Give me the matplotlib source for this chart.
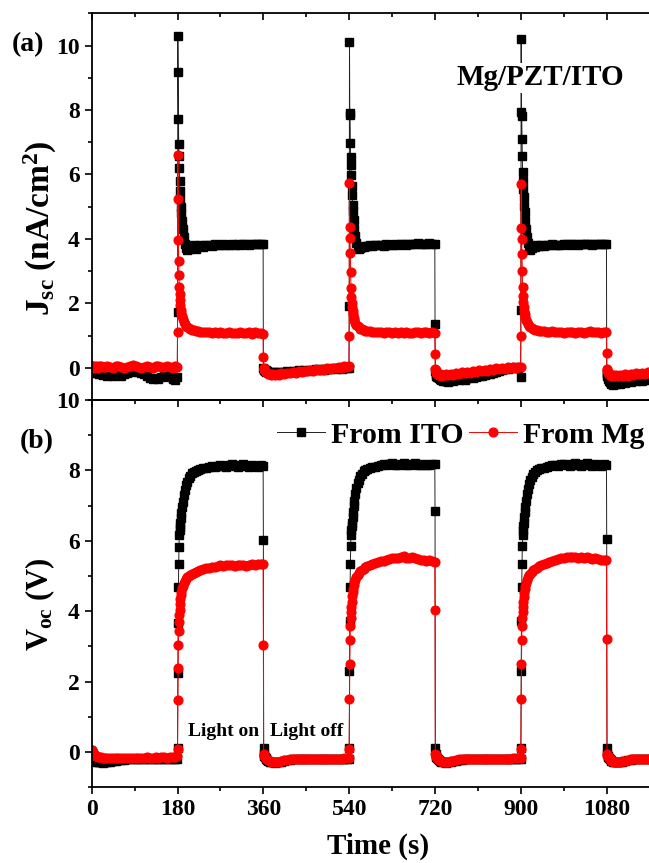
import numpy as np
import matplotlib.pyplot as plt
from matplotlib.ticker import MultipleLocator

plt.rcParams['font.family'] = ['Liberation Serif', 'DejaVu Serif']
plt.rcParams['font.weight'] = 'bold'
plt.rcParams['axes.labelweight'] = 'bold'
plt.rcParams['mathtext.fontset'] = 'custom'
plt.rcParams['mathtext.rm'] = 'Liberation Serif:bold'
plt.rcParams['mathtext.it'] = 'Liberation Serif:bold'
plt.rcParams['mathtext.bf'] = 'Liberation Serif:bold'

# switching times (s): light on at t_light, off at t_dark
t_dark = [0, 360, 720, 1080]
t_light = [180, 540, 900]

# sampling offsets inside a dark / light segment (s)
off_dt = [0, 0.6, 1.2, 2, 3, 4.5, 6, 8, 10, 13, 16, 20, 24, 28, 33, 38, 44, 50, 56, 62,
          68, 74, 80, 86, 92, 98, 104, 110, 116, 122, 128, 134, 140, 146, 152, 158, 164, 170, 175, 179.5]
on_dt = [0, 0.6, 1.2, 1.8, 2.4, 3, 3.6, 4.2, 5, 6, 7, 8, 9.5, 11, 13, 15, 17.5, 20, 23, 26,
         30, 34, 38, 43, 48, 54, 60, 66, 72, 78, 84, 90, 96, 102, 108, 114, 120, 126, 132, 138,
         144, 150, 156, 162, 168, 174, 179.5]

# ---- (a) Jsc, nA/cm2 ----
jsc_ito_dark = [
    [-0.10, -0.12, -0.10, -0.15, -0.12, -0.14, -0.10, -0.13, -0.15, -0.12, -0.18, -0.20, -0.22, -0.20,
     -0.24, -0.22, -0.25, -0.20, -0.22, -0.24, -0.18, -0.15, -0.12, -0.10, -0.08, -0.12, -0.15, -0.18,
     -0.25, -0.32, -0.36, -0.33, -0.36, -0.30, -0.25, -0.22, -0.28, -0.35, -0.38, -0.30],
    [0.00, -0.05, -0.08, -0.06, -0.10, -0.08, -0.12, -0.10, -0.14, -0.12, -0.15, -0.13, -0.16, -0.14,
     -0.12, -0.15, -0.13, -0.10, -0.12, -0.09, -0.11, -0.08, -0.10, -0.07, -0.09, -0.06, -0.08, -0.05,
     -0.07, -0.04, -0.06, -0.03, -0.05, -0.02, -0.04, -0.01, -0.03, 0.00, -0.02, 0.00],
    [1.36, -0.10, -0.15, -0.20, -0.25, -0.28, -0.30, -0.32, -0.35, -0.38, -0.40, -0.42, -0.40, -0.43,
     -0.38, -0.41, -0.36, -0.39, -0.35, -0.37, -0.33, -0.30, -0.32, -0.28, -0.25, -0.27, -0.22, -0.20,
     -0.18, -0.15, -0.12, -0.10, -0.08, -0.05, -0.03, 0.00, -0.02, 0.02, 0.00, -0.30],
    [-0.15, -0.20, -0.25, -0.30, -0.35, -0.40, -0.45, -0.48, -0.50, -0.52, -0.48, -0.50, -0.45, -0.50,
     -0.42, -0.46, -0.40, -0.44, -0.38, -0.42, -0.36, -0.40, -0.35, -0.38, -0.34],
]
jsc_ito_light = [
    [1.73, 10.28, 9.19, 7.72, 6.95, 6.57, 6.19, 5.80, 5.50, 5.25, 5.00, 4.80, 4.55, 4.30, 4.05, 3.85,
     3.72, 3.66, 3.70, 3.78, 3.74, 3.80, 3.70, 3.78, 3.80, 3.76, 3.82, 3.80, 3.79, 3.83, 3.80, 3.81,
     3.84, 3.80, 3.82, 3.83, 3.81, 3.84, 3.82, 3.83, 3.85, 3.82, 3.84, 3.83, 3.85, 3.84, 3.83],
    [1.92, 10.12, 7.90, 7.85, 6.97, 6.55, 6.30, 5.98, 5.65, 5.35, 5.05, 4.85, 4.58, 4.32, 4.08, 3.88,
     3.74, 3.68, 3.72, 3.76, 3.74, 3.79, 3.77, 3.80, 3.78, 3.81, 3.80, 3.82, 3.79, 3.83, 3.81, 3.82,
     3.84, 3.81, 3.83, 3.84, 3.82, 3.85, 3.83, 3.84, 3.86, 3.83, 3.85, 3.84, 3.86, 3.85, 3.84],
    [1.78, 10.20, 7.95, 7.80, 7.09, 6.57, 6.09, 5.80, 5.55, 5.30, 5.02, 4.82, 4.56, 4.30, 4.06, 3.86,
     3.73, 3.67, 3.71, 3.77, 3.75, 3.80, 3.78, 3.81, 3.79, 3.82, 3.81, 3.83, 3.80, 3.82, 3.81, 3.83,
     3.84, 3.82, 3.83, 3.85, 3.82, 3.84, 3.83, 3.85, 3.84, 3.82, 3.85, 3.84, 3.83, 3.85, 3.84],
]
jsc_mg_dark = [
    [0.05, 0.03, 0.06, 0.02, 0.04, 0.00, 0.03, 0.05, 0.02, 0.00, 0.04, 0.06, 0.03, 0.01, 0.05, 0.02,
     0.00, 0.04, 0.06, 0.02, 0.00, 0.03, 0.05, 0.08, 0.04, 0.02, 0.00, 0.03, 0.05, 0.02, 0.00, 0.04,
     0.06, 0.03, 0.01, 0.05, 0.03, 0.00, 0.04, 0.02],
    [0.33, -0.02, -0.05, -0.08, -0.10, -0.12, -0.14, -0.16, -0.18, -0.20, -0.22, -0.20, -0.23, -0.19,
     -0.21, -0.17, -0.19, -0.15, -0.17, -0.13, -0.15, -0.11, -0.13, -0.09, -0.11, -0.07, -0.09, -0.05,
     -0.07, -0.04, -0.06, -0.02, -0.04, 0.00, -0.02, 0.03, 0.00, 0.05, 0.02, 0.04],
    [0.43, -0.05, -0.08, -0.12, -0.15, -0.18, -0.20, -0.22, -0.20, -0.24, -0.21, -0.23, -0.19, -0.22,
     -0.18, -0.21, -0.16, -0.19, -0.14, -0.17, -0.12, -0.15, -0.10, -0.13, -0.08, -0.11, -0.06, -0.09,
     -0.04, -0.07, -0.02, -0.05, 0.00, -0.03, 0.02, -0.01, 0.03, 0.00, 0.02, 0.01],
    [0.46, -0.05, -0.08, -0.12, -0.15, -0.18, -0.20, -0.23, -0.25, -0.22, -0.26, -0.23, -0.27, -0.22,
     -0.25, -0.20, -0.24, -0.19, -0.22, -0.17, -0.20, -0.15, -0.18, -0.14, -0.16],
]
jsc_mg_light = [
    [1.12, 6.60, 5.24, 3.96, 3.32, 2.88, 2.52, 2.30, 2.10, 1.95, 1.80, 1.70, 1.60, 1.50, 1.42, 1.36,
     1.30, 1.26, 1.22, 1.20, 1.18, 1.16, 1.15, 1.13, 1.12, 1.12, 1.10, 1.11, 1.09, 1.10, 1.08, 1.10,
     1.09, 1.08, 1.10, 1.07, 1.09, 1.08, 1.12, 1.07, 1.08, 1.10, 1.06, 1.12, 1.07, 1.08, 1.05],
    [1.00, 5.73, 4.38, 4.02, 3.55, 2.98, 2.47, 2.20, 2.02, 1.88, 1.75, 1.66, 1.56, 1.47, 1.40, 1.34,
     1.29, 1.25, 1.21, 1.19, 1.17, 1.15, 1.14, 1.13, 1.12, 1.11, 1.10, 1.12, 1.09, 1.11, 1.10, 1.08,
     1.11, 1.09, 1.10, 1.08, 1.11, 1.09, 1.08, 1.10, 1.12, 1.09, 1.10, 1.11, 1.08, 1.10, 1.09],
    [1.00, 5.70, 4.35, 4.00, 3.52, 3.00, 2.50, 2.22, 2.04, 1.90, 1.76, 1.67, 1.57, 1.48, 1.41, 1.35,
     1.30, 1.26, 1.22, 1.20, 1.18, 1.16, 1.15, 1.14, 1.13, 1.12, 1.11, 1.13, 1.10, 1.12, 1.11, 1.09,
     1.12, 1.10, 1.11, 1.09, 1.12, 1.10, 1.09, 1.11, 1.13, 1.10, 1.11, 1.12, 1.09, 1.11, 1.10],
]

# ---- (b) Voc, V ----
voc_ito_dark = [
    [-0.05, -0.10, -0.15, -0.18, -0.20, -0.22, -0.24, -0.25, -0.27, -0.28, -0.28, -0.29, -0.30, -0.29,
     -0.28, -0.27, -0.25, -0.24, -0.23, -0.22, -0.22, -0.21, -0.21, -0.20, -0.21, -0.20, -0.20, -0.21,
     -0.20, -0.20, -0.21, -0.20, -0.20, -0.21, -0.20, -0.20, -0.21, -0.20, -0.20, -0.20],
    [6.03, 0.11, -0.05, -0.10, -0.15, -0.18, -0.20, -0.23, -0.25, -0.27, -0.28, -0.29, -0.30, -0.29,
     -0.28, -0.27, -0.25, -0.23, -0.22, -0.21, -0.21, -0.20, -0.20, -0.21, -0.20, -0.20, -0.21, -0.20,
     -0.20, -0.21, -0.20, -0.20, -0.21, -0.20, -0.20, -0.21, -0.20, -0.20, -0.21, -0.20],
    [6.84, 0.11, -0.04, -0.10, -0.14, -0.18, -0.21, -0.23, -0.26, -0.27, -0.29, -0.29, -0.30, -0.28,
     -0.27, -0.26, -0.24, -0.23, -0.22, -0.21, -0.20, -0.21, -0.20, -0.20, -0.21, -0.20, -0.20, -0.21,
     -0.20, -0.20, -0.21, -0.20, -0.20, -0.21, -0.20, -0.20, -0.21, -0.20, -0.20, -0.20],
    [6.05, 0.11, -0.05, -0.10, -0.15, -0.18, -0.21, -0.23, -0.25, -0.27, -0.28, -0.29, -0.29, -0.28,
     -0.27, -0.25, -0.23, -0.22, -0.21, -0.20, -0.21, -0.20, -0.20, -0.21, -0.20],
]
voc_ito_light = [
    [0.12, 2.24, 3.68, 4.70, 5.35, 5.82, 6.16, 6.30, 6.40, 6.50, 6.65, 6.80, 6.95, 7.10, 7.30, 7.45,
     7.58, 7.68, 7.78, 7.85, 7.92, 7.96, 7.99, 8.02, 8.04, 8.06, 8.08, 8.10, 8.12, 8.10, 8.13, 8.15,
     8.12, 8.10, 8.15, 8.17, 8.12, 8.10, 8.15, 8.17, 8.12, 8.10, 8.15, 8.12, 8.10, 8.15, 8.12],
    [0.12, 2.29, 3.71, 4.70, 5.35, 5.84, 6.17, 6.32, 6.42, 6.52, 6.68, 6.83, 6.98, 7.14, 7.34, 7.50,
     7.63, 7.74, 7.84, 7.91, 7.97, 8.01, 8.04, 8.07, 8.09, 8.11, 8.13, 8.15, 8.17, 8.14, 8.18, 8.20,
     8.16, 8.14, 8.19, 8.21, 8.16, 8.14, 8.19, 8.21, 8.16, 8.14, 8.19, 8.16, 8.14, 8.19, 8.17],
    [0.12, 2.29, 3.71, 4.70, 5.35, 5.84, 6.17, 6.32, 6.42, 6.52, 6.67, 6.82, 6.97, 7.12, 7.32, 7.48,
     7.61, 7.72, 7.82, 7.90, 7.96, 8.00, 8.03, 8.06, 8.08, 8.10, 8.12, 8.14, 8.16, 8.13, 8.17, 8.19,
     8.15, 8.13, 8.18, 8.20, 8.15, 8.13, 8.18, 8.20, 8.15, 8.13, 8.18, 8.15, 8.13, 8.18, 8.16],
]
voc_mg_dark = [
    [0.07, 0.05, 0.03, 0.00, -0.03, -0.06, -0.08, -0.10, -0.12, -0.13, -0.14, -0.15, -0.16, -0.16,
     -0.17, -0.17, -0.16, -0.17, -0.16, -0.17, -0.16, -0.16, -0.17, -0.16, -0.16, -0.17, -0.16, -0.16,
     -0.15, -0.16, -0.16, -0.15, -0.16, -0.15, -0.15, -0.16, -0.15, -0.14, -0.14, -0.12],
    [3.05, -0.05, -0.08, -0.11, -0.14, -0.17, -0.19, -0.21, -0.23, -0.25, -0.27, -0.28, -0.29, -0.28,
     -0.27, -0.25, -0.23, -0.22, -0.21, -0.20, -0.20, -0.19, -0.20, -0.19, -0.19, -0.20, -0.19, -0.19,
     -0.20, -0.19, -0.19, -0.20, -0.19, -0.19, -0.20, -0.19, -0.19, -0.18, -0.18, -0.16],
    [4.04, -0.05, -0.08, -0.11, -0.14, -0.17, -0.19, -0.21, -0.24, -0.26, -0.27, -0.28, -0.29, -0.28,
     -0.26, -0.24, -0.22, -0.21, -0.20, -0.20, -0.19, -0.20, -0.19, -0.19, -0.20, -0.19, -0.19, -0.20,
     -0.19, -0.19, -0.20, -0.19, -0.19, -0.20, -0.19, -0.19, -0.18, -0.18, -0.17, -0.16],
    [3.22, -0.05, -0.08, -0.11, -0.14, -0.17, -0.19, -0.21, -0.24, -0.26, -0.27, -0.28, -0.29, -0.28,
     -0.26, -0.24, -0.22, -0.21, -0.20, -0.20, -0.19, -0.20, -0.19, -0.19, -0.20],
]
voc_mg_light = [
    [0.08, 1.48, 2.39, 3.05, 3.45, 3.70, 3.90, 4.05, 4.20, 4.35, 4.45, 4.55, 4.65, 4.72, 4.80, 4.86,
     4.92, 4.96, 5.00, 5.03, 5.06, 5.10, 5.12, 5.15, 5.17, 5.20, 5.22, 5.24, 5.25, 5.27, 5.28, 5.30,
     5.28, 5.30, 5.32, 5.30, 5.28, 5.30, 5.32, 5.30, 5.28, 5.30, 5.33, 5.30, 5.35, 5.33, 5.33],
    [0.08, 1.51, 2.50, 3.17, 3.57, 3.80, 3.98, 4.12, 4.27, 4.42, 4.54, 4.64, 4.74, 4.82, 4.90, 4.97,
     5.03, 5.08, 5.13, 5.17, 5.21, 5.25, 5.28, 5.31, 5.34, 5.37, 5.40, 5.42, 5.44, 5.46, 5.48, 5.50,
     5.52, 5.50, 5.54, 5.56, 5.52, 5.50, 5.53, 5.50, 5.48, 5.47, 5.45, 5.43, 5.45, 5.43, 5.41],
    [0.08, 1.51, 2.50, 3.17, 3.57, 3.80, 3.97, 4.11, 4.26, 4.41, 4.53, 4.63, 4.73, 4.81, 4.89, 4.96,
     5.02, 5.07, 5.12, 5.16, 5.20, 5.24, 5.28, 5.32, 5.35, 5.38, 5.41, 5.44, 5.46, 5.48, 5.50, 5.52,
     5.54, 5.55, 5.53, 5.55, 5.52, 5.54, 5.51, 5.53, 5.50, 5.49, 5.51, 5.48, 5.47, 5.46, 5.46],
]


def join(dark, light):
    t, y = [], []
    for i, seg in enumerate(dark):
        t += [t_dark[i] + s for s in off_dt[:len(seg)]]
        y += seg
        if i < len(light):
            t += [t_light[i] + s for s in on_dt]
            y += light[i]
    return np.array(t), np.array(y)


fig = plt.figure(figsize=(6.49, 8.63), dpi=100)
ax1 = fig.add_axes([0.1413, 0.5365, 0.8817, 0.4481])
ax2 = fig.add_axes([0.1413, 0.0877, 0.8817, 0.4488])

ito_style = dict(color='#222222', lw=0.7, marker='s', ms=5.5, mfc='black', mec='black')
mg_style = dict(color='red', lw=0.7, marker='o', ms=6.3, mfc='red', mec='red')

t, y = join(jsc_ito_dark, jsc_ito_light)
ax1.plot(t, y, **ito_style)
t, y = join(jsc_mg_dark, jsc_mg_light)
ax1.plot(t, y, **mg_style)

t, y = join(voc_ito_dark, voc_ito_light)
ax2.plot(t, y, label='From ITO', **ito_style)
t, y = join(voc_mg_dark, voc_mg_light)
ax2.plot(t, y, label='From Mg', **mg_style)

for ax in (ax1, ax2):
    ax.set_xlim(0, 1200)
    ax.xaxis.set_major_locator(MultipleLocator(180))
    ax.xaxis.set_minor_locator(MultipleLocator(90))
    ax.yaxis.set_major_locator(MultipleLocator(2))
    ax.yaxis.set_minor_locator(MultipleLocator(1))
    ax.spines['right'].set_visible(False)
    for sp in ax.spines.values():
        sp.set_linewidth(1.3)
    ax.tick_params(which='both', width=1.2, labelsize=17)
    ax.tick_params(which='major', length=5)
    ax.tick_params(which='minor', length=3)
    ax.tick_params(axis='y', which='both', direction='out', right=False)

ax1.set_ylim(-1, 11)
ax1.tick_params(axis='x', which='both', direction='in', top=True, bottom=False, labelbottom=False)

ax2.set_ylim(-1, 10)
ax2.tick_params(axis='x', which='both', direction='out', top=False, bottom=True)
sec = ax2.secondary_xaxis('top')
sec.xaxis.set_major_locator(MultipleLocator(180))
sec.xaxis.set_minor_locator(MultipleLocator(90))
sec.tick_params(which='both', direction='in', width=1.2, labeltop=False)
sec.tick_params(which='major', length=5)
sec.tick_params(which='minor', length=3)
sec.spines['top'].set_linewidth(1.3)

ax2.set_xlabel('Time (s)', fontsize=21, fontweight='bold', labelpad=9)

fig.text(40 / 649, 1 - 228 / 863, r'$\mathbf{J_{sc}}$ (nA/cm$^{\mathbf{2}}$)',
         rotation=90, ha='center', va='center', fontsize=24)
fig.text(40 / 649, 1 - 604 / 863, r'$\mathbf{V_{oc}}$ (V)',
         rotation=90, ha='center', va='center', fontsize=22)

fig.text(28 / 649, 1 - 45 / 863, '(a)', ha='center', va='center', fontsize=20)
fig.text(37 / 649, 1 - 442 / 863, '(b)', ha='center', va='center', fontsize=20)

ax1.text(940, 9.0, 'Mg/PZT/ITO', ha='center', va='center', fontsize=21, zorder=5,
         bbox=dict(facecolor='white', edgecolor='none', pad=1))

ax2.text(201, 0.58, 'Light on', ha='left', va='center', fontsize=14)
ax2.text(374, 0.58, 'Light off', ha='left', va='center', fontsize=14)

ax2.legend(loc='center left', bbox_to_anchor=(277 / 649, 1 - 435 / 863),
           bbox_transform=fig.transFigure, ncol=2, frameon=False, fontsize=21.5,
           handlelength=1.6, handletextpad=0.2, columnspacing=0.2, borderpad=0,
           borderaxespad=0, numpoints=1)

fig.savefig('out.png', dpi=100)
